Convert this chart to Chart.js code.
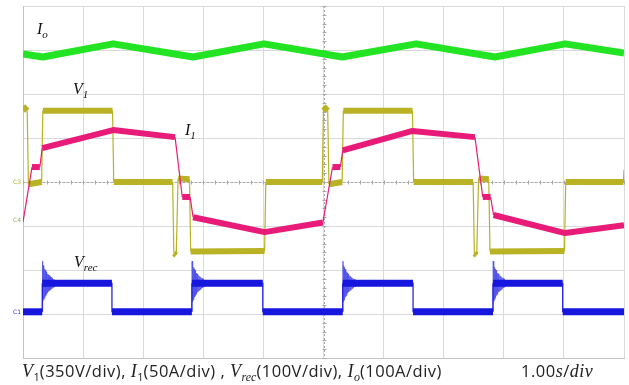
<!DOCTYPE html>
<html>
<head>
<meta charset="utf-8">
<script src="https://cdn.jsdelivr.net/npm/chart.js@4"></script>
<style>
  body { margin: 0; background: #fff; }
  #wrap { position: relative; width: 629px; height: 385px; overflow: hidden; }
  .lbl { position: absolute; font-family: "Liberation Serif", serif; font-style: italic; font-size: 16px; color: #111; line-height: 1; }
  .lbl sub { font-size: 11px; }
  .ch { position: absolute; font-family: "DejaVu Sans", sans-serif; font-size: 6px; line-height: 1; }
  #caption { position: absolute; left: 22px; top: 361px; font-family: "Open Sans", sans-serif; font-size: 16.5px; letter-spacing: 0.5px; color: #222; white-space: nowrap; line-height: 1.2; }
  #caption i { font-family: "Liberation Serif", serif; font-size: 18px; }
  #caption sub { font-size: 11px; letter-spacing: 0; }
  #caption sub i { font-size: 12px; }
  #timebase { position: absolute; left: 521px; top: 361px; font-family: "Open Sans", sans-serif; font-size: 16.5px; letter-spacing: 0.5px; color: #222; line-height: 1.2; }
  #timebase i { font-family: "Liberation Serif", serif; font-size: 18px; }
</style>
</head>
<body>
<div id="wrap">
  <canvas id="scope" width="629" height="385"></canvas>
  <div class="lbl" style="left:37px;top:21px">I<sub>o</sub></div>
  <div class="lbl" style="left:73px;top:81px">V<sub>1</sub></div>
  <div class="lbl" style="left:185px;top:122px">I<sub>1</sub></div>
  <div class="lbl" style="left:74px;top:254px">V<sub>rec</sub></div>
  <div class="ch" style="left:13px;top:179px;color:#b3ad2a">C3</div>
  <div class="ch" style="left:13px;top:217px;color:#8fae6a">C4</div>
  <div class="ch" style="left:13px;top:309px;color:#3b3bd8">C1</div>
  <div id="caption"><i>V</i><sub>1</sub>(350V/div), <i>I</i><sub>1</sub>(50A/div) , <i>V</i><sub><i>rec</i></sub>(100V/div), <i>I</i><sub><i>o</i></sub>(100A/div)</div>
  <div id="timebase">1.00<i>s</i>/<i>div</i></div>
</div>
<script>
// time axis in divisions (1.00 s/div), amplitude in divisions (centre = 0)
const ioT = [0, 0.33, 1.50, 2.83, 4.01, 5.31, 6.54, 7.85, 9.02, 10];
const ioV = [2.91, 2.84, 3.14, 2.84, 3.14, 2.84, 3.14, 2.84, 3.14, 2.93];

const v1T = [0, 0.07, 0.09, 0.31, 0.33, 1.49, 1.51, 2.49, 2.51, 2.55, 2.58, 2.77, 2.79, 4.02, 4.04, 4.98,
             5.00, 5.07, 5.09, 5.31, 5.33, 6.48, 6.50, 7.49, 7.51, 7.55, 7.58, 7.75, 7.77, 9.01, 9.03, 9.99, 10];
const v1V = [1.72, 1.62, -0.05, 0.00, 1.62, 1.62, 0.00, 0.00, -1.62, -1.66, 0.08, 0.06, -1.58, -1.57, 0.00, 0.00,
             1.72, 1.62, -0.05, 0.00, 1.62, 1.62, 0.00, 0.00, -1.62, -1.66, 0.08, 0.06, -1.58, -1.57, 0.00, 0.00, 0.28];

const i1T = [0, 0.15, 0.28, 0.32, 1.50, 2.53, 2.65, 2.78, 2.83, 4.02, 4.99, 5.15, 5.28, 5.32, 6.48, 7.52, 7.65, 7.78, 7.83, 9.02, 10];
const i1V = [-0.91, 0.34, 0.34, 0.77, 1.18, 1.02, -0.34, -0.34, -0.80, -1.14, -0.92, 0.34, 0.34, 0.72, 1.16, 1.02, -0.34, -0.34, -0.75, -1.16, -0.98];

const vrecT = [0, 0.32, 0.32, 1.48, 1.48, 2.81, 2.81, 3.99, 3.99, 5.32, 5.32, 6.49, 6.49, 7.82, 7.82, 8.98, 8.98, 10];
const vrecV = [-2.95, -2.95, -2.30, -2.30, -2.95, -2.95, -2.30, -2.30, -2.95, -2.95, -2.30, -2.30, -2.95, -2.95, -2.30, -2.30, -2.95, -2.95];

// ringing after each rising edge of Vrec, relative to the edge and the high level
const vrecHigh = -2.30;
const ringEdges = [0.32, 2.81, 5.32, 7.82];
const ringDx = [0, 0.004, 0.010, 0.016, 0.022, 0.028, 0.034, 0.040, 0.046, 0.052, 0.058, 0.064, 0.070, 0.076, 0.082, 0.088,
                0.094, 0.100, 0.108, 0.116, 0.124, 0.132, 0.140, 0.150, 0.160, 0.170, 0.180, 0.192, 0.204, 0.218, 0.232, 0.248];
const ringDy = [-0.65, 0.50, -0.42, 0.40, -0.38, 0.36, -0.34, 0.32, -0.31, 0.29, -0.28, 0.26, -0.25, 0.23, -0.22, 0.21,
                -0.20, 0.19, -0.18, 0.17, -0.16, 0.15, -0.14, 0.13, -0.12, 0.11, -0.10, 0.09, -0.08, 0.07, -0.06, 0.05];

const pts = (t, v) => t.map((x, i) => ({ x: x, y: v[i] }));

const ring = [];
ringEdges.forEach(e => {
  ringDx.forEach((d, i) => ring.push({ x: e + d, y: vrecHigh + ringDy[i] }));
  ring.push({ x: e + 0.26, y: null });
});

// thick noisy band on flat parts, thin line on fast edges
function trace(label, data, color, width) {
  return {
    label: label,
    data: data,
    borderColor: color,
    borderWidth: width,
    showLine: true,
    pointRadius: 0,
    tension: 0,
    borderJoinStyle: 'round',
    segment: {
      borderWidth: ctx => {
        const dx = Math.abs(ctx.p1.x - ctx.p0.x);
        const dy = Math.abs(ctx.p1.y - ctx.p0.y);
        return dy > 2.5 * dx ? 1.2 : width;
      }
    }
  };
}

const crosshair = {
  id: 'crosshair',
  beforeDatasetsDraw(chart) {
    const { ctx, chartArea: a, scales } = chart;
    const cx = Math.round(scales.x.getPixelForValue(5)) + 0.5;
    const cy = Math.round(scales.y.getPixelForValue(0)) + 0.5;
    ctx.save();
    ctx.strokeStyle = '#a8a8a8';
    ctx.lineWidth = 1;
    ctx.setLineDash([2, 2]);
    ctx.beginPath();
    ctx.moveTo(cx, a.top); ctx.lineTo(cx, a.bottom);
    ctx.moveTo(a.left, cy); ctx.lineTo(a.right, cy);
    ctx.stroke();
    ctx.setLineDash([]);
    ctx.beginPath();
    for (let v = 0; v <= 10.001; v += 0.2) {
      const x = Math.round(scales.x.getPixelForValue(v)) + 0.5;
      ctx.moveTo(x, cy - 2); ctx.lineTo(x, cy + 2);
    }
    for (let v = -4; v <= 4.001; v += 0.2) {
      const y = Math.round(scales.y.getPixelForValue(v)) + 0.5;
      ctx.moveTo(cx - 2, y); ctx.lineTo(cx + 2, y);
    }
    ctx.stroke();
    ctx.restore();
  }
};

new Chart(document.getElementById('scope').getContext('2d'), {
  type: 'scatter',
  data: {
    datasets: [
      trace('I1', pts(i1T, i1V), 'rgb(232,28,120)', 6),
      trace('V1', pts(v1T, v1V), 'rgb(184,178,36)', 6),
      trace('Vrec', pts(vrecT, vrecV), 'rgb(22,22,222)', 7),
      { label: 'ring', data: ring, borderColor: 'rgba(80,80,232,0.8)', borderWidth: 1, showLine: true, pointRadius: 0, spanGaps: false },
      trace('Io', pts(ioT, ioV), 'rgb(34,228,34)', 7)
    ]
  },
  options: {
    responsive: false,
    animation: false,
    layout: { padding: { left: 23, right: 5, top: 6, bottom: 27 } },
    plugins: { legend: { display: false }, tooltip: { enabled: false } },
    scales: {
      x: {
        type: 'linear', min: 0, max: 10,
        ticks: { display: false, stepSize: 1 },
        grid: { color: '#dadada', drawTicks: false },
        border: { color: '#c4c4c4' }
      },
      y: {
        type: 'linear', min: -4, max: 4,
        ticks: { display: false, stepSize: 1 },
        grid: { color: '#dadada', drawTicks: false },
        border: { color: '#c4c4c4' }
      }
    }
  },
  plugins: [crosshair]
});
</script>
</body>
</html>
